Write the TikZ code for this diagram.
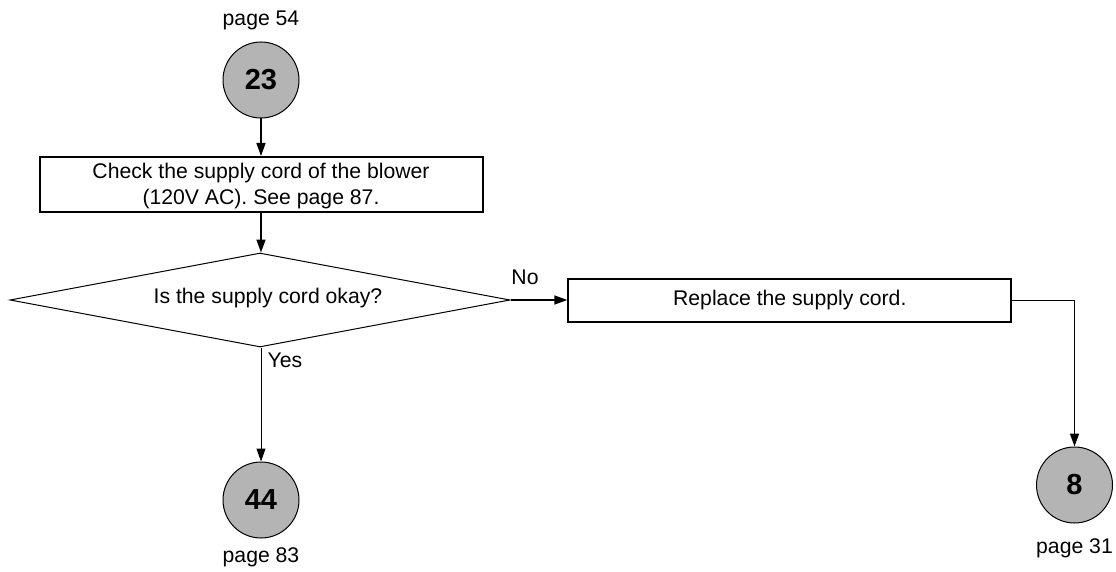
\documentclass[tikz,border=0pt]{standalone}
\usepackage{fontspec}
\setmainfont{Liberation Sans}
\usetikzlibrary{shapes.geometric,arrows.meta}
\definecolor{circfill}{RGB}{180,180,180}
\begin{document}
\begin{tikzpicture}[x=1pt,y=-1pt,
  every node/.style={font=\fontsize{21.2}{26.6}\selectfont, inner sep=0pt},
  conn/.style={line width=1.6pt, -{Triangle[length=13pt,width=9pt]}},
  thinconn/.style={line width=1pt, -{Triangle[length=13pt,width=9pt]}},
  pagecirc/.style={circle, draw, line width=1pt, fill=circfill, minimum size=76pt, font=\fontsize{29}{30}\selectfont\bfseries},
  procbox/.style={draw, line width=2pt, minimum width=443pt, align=center},
  decision/.style={diamond, draw, line width=1pt, minimum width=500pt, minimum height=94pt, aspect=5.3},
  pagelabel/.style={anchor=base},
]
\useasboundingbox (0,0) rectangle (1116,572);
% nodes
\node[pagelabel] (p54) at (261,26) {page 54};
\node[pagecirc] (c23) at (261,80) {23};
\node[procbox, minimum height=55pt] (b1) at (261,184.5) {\rule{0pt}{18pt}Check the supply cord of the blower\\(120V AC). See page 87.};
\node[decision] (d) at (260,300) {};
\node[anchor=base] (dq) at (268,303) {Is the supply cord okay?};
\node[procbox, minimum height=43pt] (b2) at (789.8,300.5) {Replace the supply cord.};
\node (no) at (525,277.5) {No};
\node[anchor=west] (yes) at (267.5,360.5) {Yes};
\node[pagecirc] (c44) at (261,500) {44};
\node[pagelabel] (p83) at (261,562.5) {page 83};
\node[pagecirc] (c8) at (1074.5,485) {8};
\node[pagelabel] (p31) at (1074.5,553) {page 31};
% connectors
\draw[conn] (c23.south) -- (b1.north -| c23.south);
\draw[conn] (b1.south -| c23.south) -- (d.north -| c23.south);
\draw[conn] (d.east) -- (b2.west |- d.east);
\draw[conn] (b2.east) -| (c8.north);
\draw[thinconn] (d.south -| c44.north) -- (c44.north);
\end{tikzpicture}
\end{document}
